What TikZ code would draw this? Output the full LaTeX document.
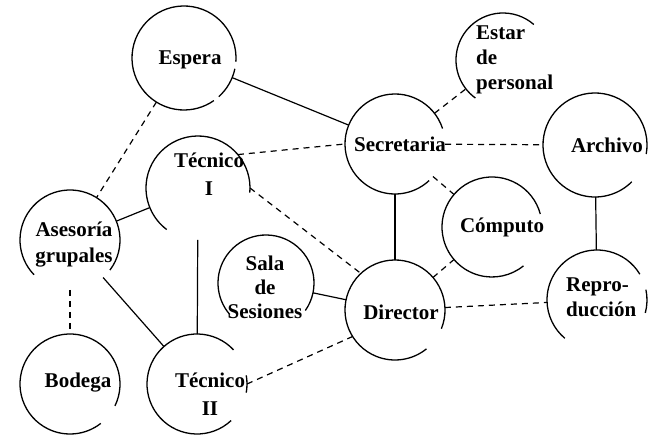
\documentclass[tikz,border=0pt]{standalone}
\usepackage{fontspec}
\setmainfont{Liberation Serif}
\newcommand\gapcirc[4]{\draw[ring] ([shift={(#3:#2pt)}]#1.center) arc[start angle=#3,end angle=#4,radius=#2pt];}
\begin{document}
\begin{tikzpicture}[x=1pt,y=1pt,
  ring/.style={line width=1.3pt},
  place/.style={circle,inner sep=0pt,outer sep=0pt,minimum size=#1},
  lbl/.style={font=\fontsize{21}{26}\selectfont\bfseries,inner sep=0pt,align=center},
  solidlink/.style={line width=1.2pt},
  dashlink/.style={line width=1.2pt,dash pattern=on 6pt off 5pt}]
\useasboundingbox (0,0) rectangle (650,-435);
% circles (shape only)
\node[place=104pt] (esp) at (184,-58) {};
\node[place=94pt] (est) at (503,-60) {};
\node[place=100pt] (sec) at (395,-144) {};
\node[place=104pt] (archv) at (595,-145) {};
\node[place=104pt] (t1) at (198,-188) {};
\node[place=100pt] (comp) at (492,-227) {};
\node[place=100pt] (ase) at (70,-240) {};
\node[place=96pt] (sala) at (266,-283) {};
\node[place=100pt] (dir) at (395,-310) {};
\node[place=100pt] (rep) at (597,-300) {};
\node[place=100pt] (bod) at (70,-384) {};
\node[place=100pt] (t2) at (197,-384) {};
% broken outlines
\gapcirc{esp}{52}{-4}{305}
\gapcirc{esp}{52}{-48}{-12}
\gapcirc{est}{47}{49}{234}
\gapcirc{sec}{50}{18}{313}
\gapcirc{archv}{52}{-10}{315}
\gapcirc{t1}{52}{-5}{233}
\gapcirc{comp}{50}{15}{309}
\gapcirc{ase}{50}{-37}{224}
\gapcirc{sala}{48}{-35}{221}
\gapcirc{dir}{50}{-22}{309}
\gapcirc{rep}{50}{31}{230}
\gapcirc{rep}{50}{-15}{12}
\gapcirc{bod}{50}{-26}{308}
\gapcirc{t2}{50}{43}{313}
\gapcirc{t2}{50}{-10}{10}
% labels
\node[lbl] (espT) at (190,-60) {Espera};
\node[lbl,align=left,anchor=west,font=\fontsize{21}{25}\selectfont\bfseries] (estT) at (476,-60) {Estar\\de\\personal};
\node[lbl] (secT) at (400,-144) {Secretaria};
\node[lbl] (archvT) at (607,-145) {Archivo};
\node[lbl,font=\fontsize{21}{28}\selectfont\bfseries] (t1T) at (209,-174) {Técnico\\I};
\node[lbl] (compT) at (502,-227) {Cómputo};
\node[lbl] (aseT) at (74,-245) {Asesoría\\grupales};
\node[lbl,font=\fontsize{21}{24}\selectfont\bfseries] (salaT) at (265,-287) {Sala\\de\\Sesiones};
\node[lbl] (dirT) at (401,-312) {Director};
\node[lbl,align=left,anchor=west,font=\fontsize{21}{25}\selectfont\bfseries] (repT) at (566,-297) {Repro-\\ducción};
\node[lbl] (bodT) at (78,-383) {Bodega};
\node[lbl,font=\fontsize{21}{28}\selectfont\bfseries] (t2T) at (210,-394) {Técnico\\II};
% solid connectors
\draw[solidlink] (esp) -- (sec);
\draw[solidlink] (t1) -- (ase);
\draw[solidlink] (t1) -- (t2);
\draw[solidlink] (ase) -- (t2);
\draw[solidlink] (sala) -- (dir);
\draw[solidlink] (sec) -- (dir);
\draw[solidlink] (archv) -- (rep);
% dashed connectors
\draw[dashlink] (esp) -- (ase);
\draw[dashlink] (t1.40) -- (sec.180);
\draw[dashlink] (t1.east) -- (dir.133);
\draw[dashlink] (ase) -- (bod);
\draw[dashlink] (t2.east) -- (dir.212);
\draw[dashlink] (sec) -- (est);
\draw[dashlink] (sec) -- (archv);
\draw[dashlink] (sec) -- (comp);
\draw[dashlink] (dir) -- (comp);
\draw[dashlink] (dir) -- (rep);
\end{tikzpicture}
\end{document}
